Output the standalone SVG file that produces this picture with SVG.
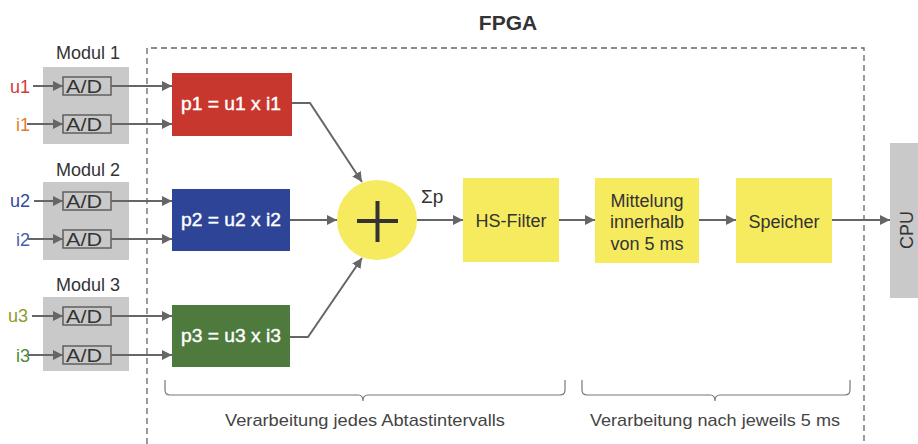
<svg xmlns="http://www.w3.org/2000/svg" width="918" height="444" viewBox="0 0 918 444">
<style>
text{font-family:"Liberation Sans",Arial,sans-serif;}
.mod{fill:#c9c9c9;}
.ad{fill:#c9c9c9;stroke:#5f5f5f;stroke-width:1.5;}
.adt{font-size:18px;fill:#333;text-anchor:middle;}
.mlab{font-size:18px;fill:#333;text-anchor:middle;}
.con{fill:none;stroke:#666;stroke-width:2;}
.yel{fill:#f6ea5f;}
.yt{font-size:18px;fill:#333;text-anchor:middle;}
.pt{font-size:18px;fill:#fff;text-anchor:middle;stroke:#fff;stroke-width:0.4;}
.brace{fill:none;stroke:#777;stroke-width:1.2;}
.bt{font-size:17px;fill:#444;text-anchor:middle;}
.in{font-size:18px;}
</style>
<defs>
<marker id="ah" viewBox="0 0 10 10" refX="10" refY="5" markerWidth="10" markerHeight="10" markerUnits="userSpaceOnUse" orient="auto">
<path d="M0,0 L10,5 L0,10 z" fill="#666"/>
</marker>
</defs>

<text x="508" y="30" font-size="21" font-weight="bold" fill="#333" text-anchor="middle">FPGA</text>
<path d="M147,444 L147,48 L864,48 L864,444" fill="none" stroke="#666" stroke-width="1.3" stroke-dasharray="6,4"/>

<g id="modul1">
<rect class="mod" x="43" y="67" width="86" height="77"/>
<text class="mlab" x="88" y="59">Modul 1</text>
<rect class="ad" x="63" y="77" width="48" height="18"/>
<text class="adt" x="84" y="93" textLength="36" lengthAdjust="spacingAndGlyphs">A/D</text>
<rect class="ad" x="63" y="115" width="48" height="18"/>
<text class="adt" x="84" y="131" textLength="36" lengthAdjust="spacingAndGlyphs">A/D</text>
<text class="in" x="10" y="93" fill="#d23a3a">u1</text>
<text class="in" x="16" y="131" fill="#e37d2c">i1</text>
</g>
<g id="modul2">
<rect class="mod" x="43" y="182" width="86" height="78"/>
<text class="mlab" x="88" y="176">Modul 2</text>
<rect class="ad" x="63" y="192" width="48" height="18"/>
<text class="adt" x="84" y="208" textLength="36" lengthAdjust="spacingAndGlyphs">A/D</text>
<rect class="ad" x="63" y="230" width="48" height="18"/>
<text class="adt" x="84" y="246" textLength="36" lengthAdjust="spacingAndGlyphs">A/D</text>
<text class="in" x="10" y="207" fill="#2f4aa0">u2</text>
<text class="in" x="16" y="246" fill="#3f5fb5">i2</text>
</g>
<g id="modul3">
<rect class="mod" x="43" y="297" width="86" height="74"/>
<text class="mlab" x="88" y="291">Modul 3</text>
<rect class="ad" x="63" y="307" width="48" height="18"/>
<text class="adt" x="84" y="323" textLength="36" lengthAdjust="spacingAndGlyphs">A/D</text>
<rect class="ad" x="63" y="346" width="48" height="18"/>
<text class="adt" x="84" y="362" textLength="36" lengthAdjust="spacingAndGlyphs">A/D</text>
<text class="in" x="8" y="322" fill="#8c9a2c">u3</text>
<text class="in" x="16" y="362" fill="#4f8a3a">i3</text>
</g>

<g id="p1"><rect x="172" y="73" width="120" height="63" fill="#c8372d"/><text class="pt" x="231" y="110" textLength="100" lengthAdjust="spacingAndGlyphs">p1 = u1 x i1</text></g>
<g id="p2"><rect x="172" y="189" width="118" height="62" fill="#2e4597"/><text class="pt" x="231" y="226" textLength="100" lengthAdjust="spacingAndGlyphs">p2 = u2 x i2</text></g>
<g id="p3"><rect x="172" y="305" width="118" height="62" fill="#4e7a3e"/><text class="pt" x="231" y="342" textLength="100" lengthAdjust="spacingAndGlyphs">p3 = u3 x i3</text></g>

<g id="sum">
<circle cx="377" cy="220" r="40" fill="#f6ea5f"/>
<path d="M357,221 L398,221 M377.5,201 L377.5,242" stroke="#333" stroke-width="4" fill="none"/>
</g>
<text x="421" y="203" font-size="19" fill="#333">Σp</text>

<g id="hsfilter"><rect class="yel" x="463" y="178" width="96" height="84"/><text class="yt" x="511" y="227">HS-Filter</text></g>
<g id="mittelung"><rect class="yel" x="595" y="178" width="104" height="85"/>
<text class="yt" x="647" y="207">Mittelung</text><text class="yt" x="647" y="228">innerhalb</text><text class="yt" x="647" y="250">von 5 ms</text></g>
<g id="speicher"><rect class="yel" x="736" y="178" width="96" height="85"/><text class="yt" x="784" y="228">Speicher</text></g>
<g id="cpu"><rect x="890" y="143" width="28" height="155" fill="#c9c9c9"/><text x="913" y="230" font-size="18" fill="#333" text-anchor="middle" transform="rotate(-90 913 230)">CPU</text></g>

<g id="connectors">
<path class="con" marker-end="url(#ah)" d="M33,86 L63,86"/>
<path class="con" marker-end="url(#ah)" d="M27,124 L63,124"/>
<path class="con" marker-end="url(#ah)" d="M34,201 L63,201"/>
<path class="con" marker-end="url(#ah)" d="M28,239 L63,239"/>
<path class="con" marker-end="url(#ah)" d="M32,316 L63,316"/>
<path class="con" marker-end="url(#ah)" d="M28,355 L63,355"/>
<path class="con" marker-end="url(#ah)" d="M111,86 L172,86"/>
<path class="con" marker-end="url(#ah)" d="M111,124 L172,124"/>
<path class="con" marker-end="url(#ah)" d="M111,201 L172,201"/>
<path class="con" marker-end="url(#ah)" d="M111,239 L172,239"/>
<path class="con" marker-end="url(#ah)" d="M111,316 L172,316"/>
<path class="con" marker-end="url(#ah)" d="M111,355 L172,355"/>
<path class="con" marker-end="url(#ah)" d="M292,103 L310,103 L362,182"/>
<path class="con" marker-end="url(#ah)" d="M290,220 L337,220"/>
<path class="con" marker-end="url(#ah)" d="M290,337 L308,337 L362,258"/>
<path class="con" marker-end="url(#ah)" d="M417,220 L463,220"/>
<path class="con" marker-end="url(#ah)" d="M559,220 L595,220"/>
<path class="con" marker-end="url(#ah)" d="M699,220 L736,220"/>
<path class="con" marker-end="url(#ah)" d="M832,220 L890,220"/>
</g>

<path class="brace" d="M165,380 L165,390 Q165,395 170,395 L358,395 Q363,395 363,401 Q363,395 368,395 L560,395 Q565,395 565,390 L565,380"/>
<path class="brace" d="M582,380 L582,390 Q582,395 587,395 L710,395 Q715,395 715,401 Q715,395 720,395 L845,395 Q850,395 850,390 L850,380"/>
<text class="bt" x="365" y="426" textLength="280" lengthAdjust="spacingAndGlyphs">Verarbeitung jedes Abtastintervalls</text>
<text class="bt" x="715" y="426" textLength="250" lengthAdjust="spacingAndGlyphs">Verarbeitung nach jeweils 5 ms</text>
</svg>
